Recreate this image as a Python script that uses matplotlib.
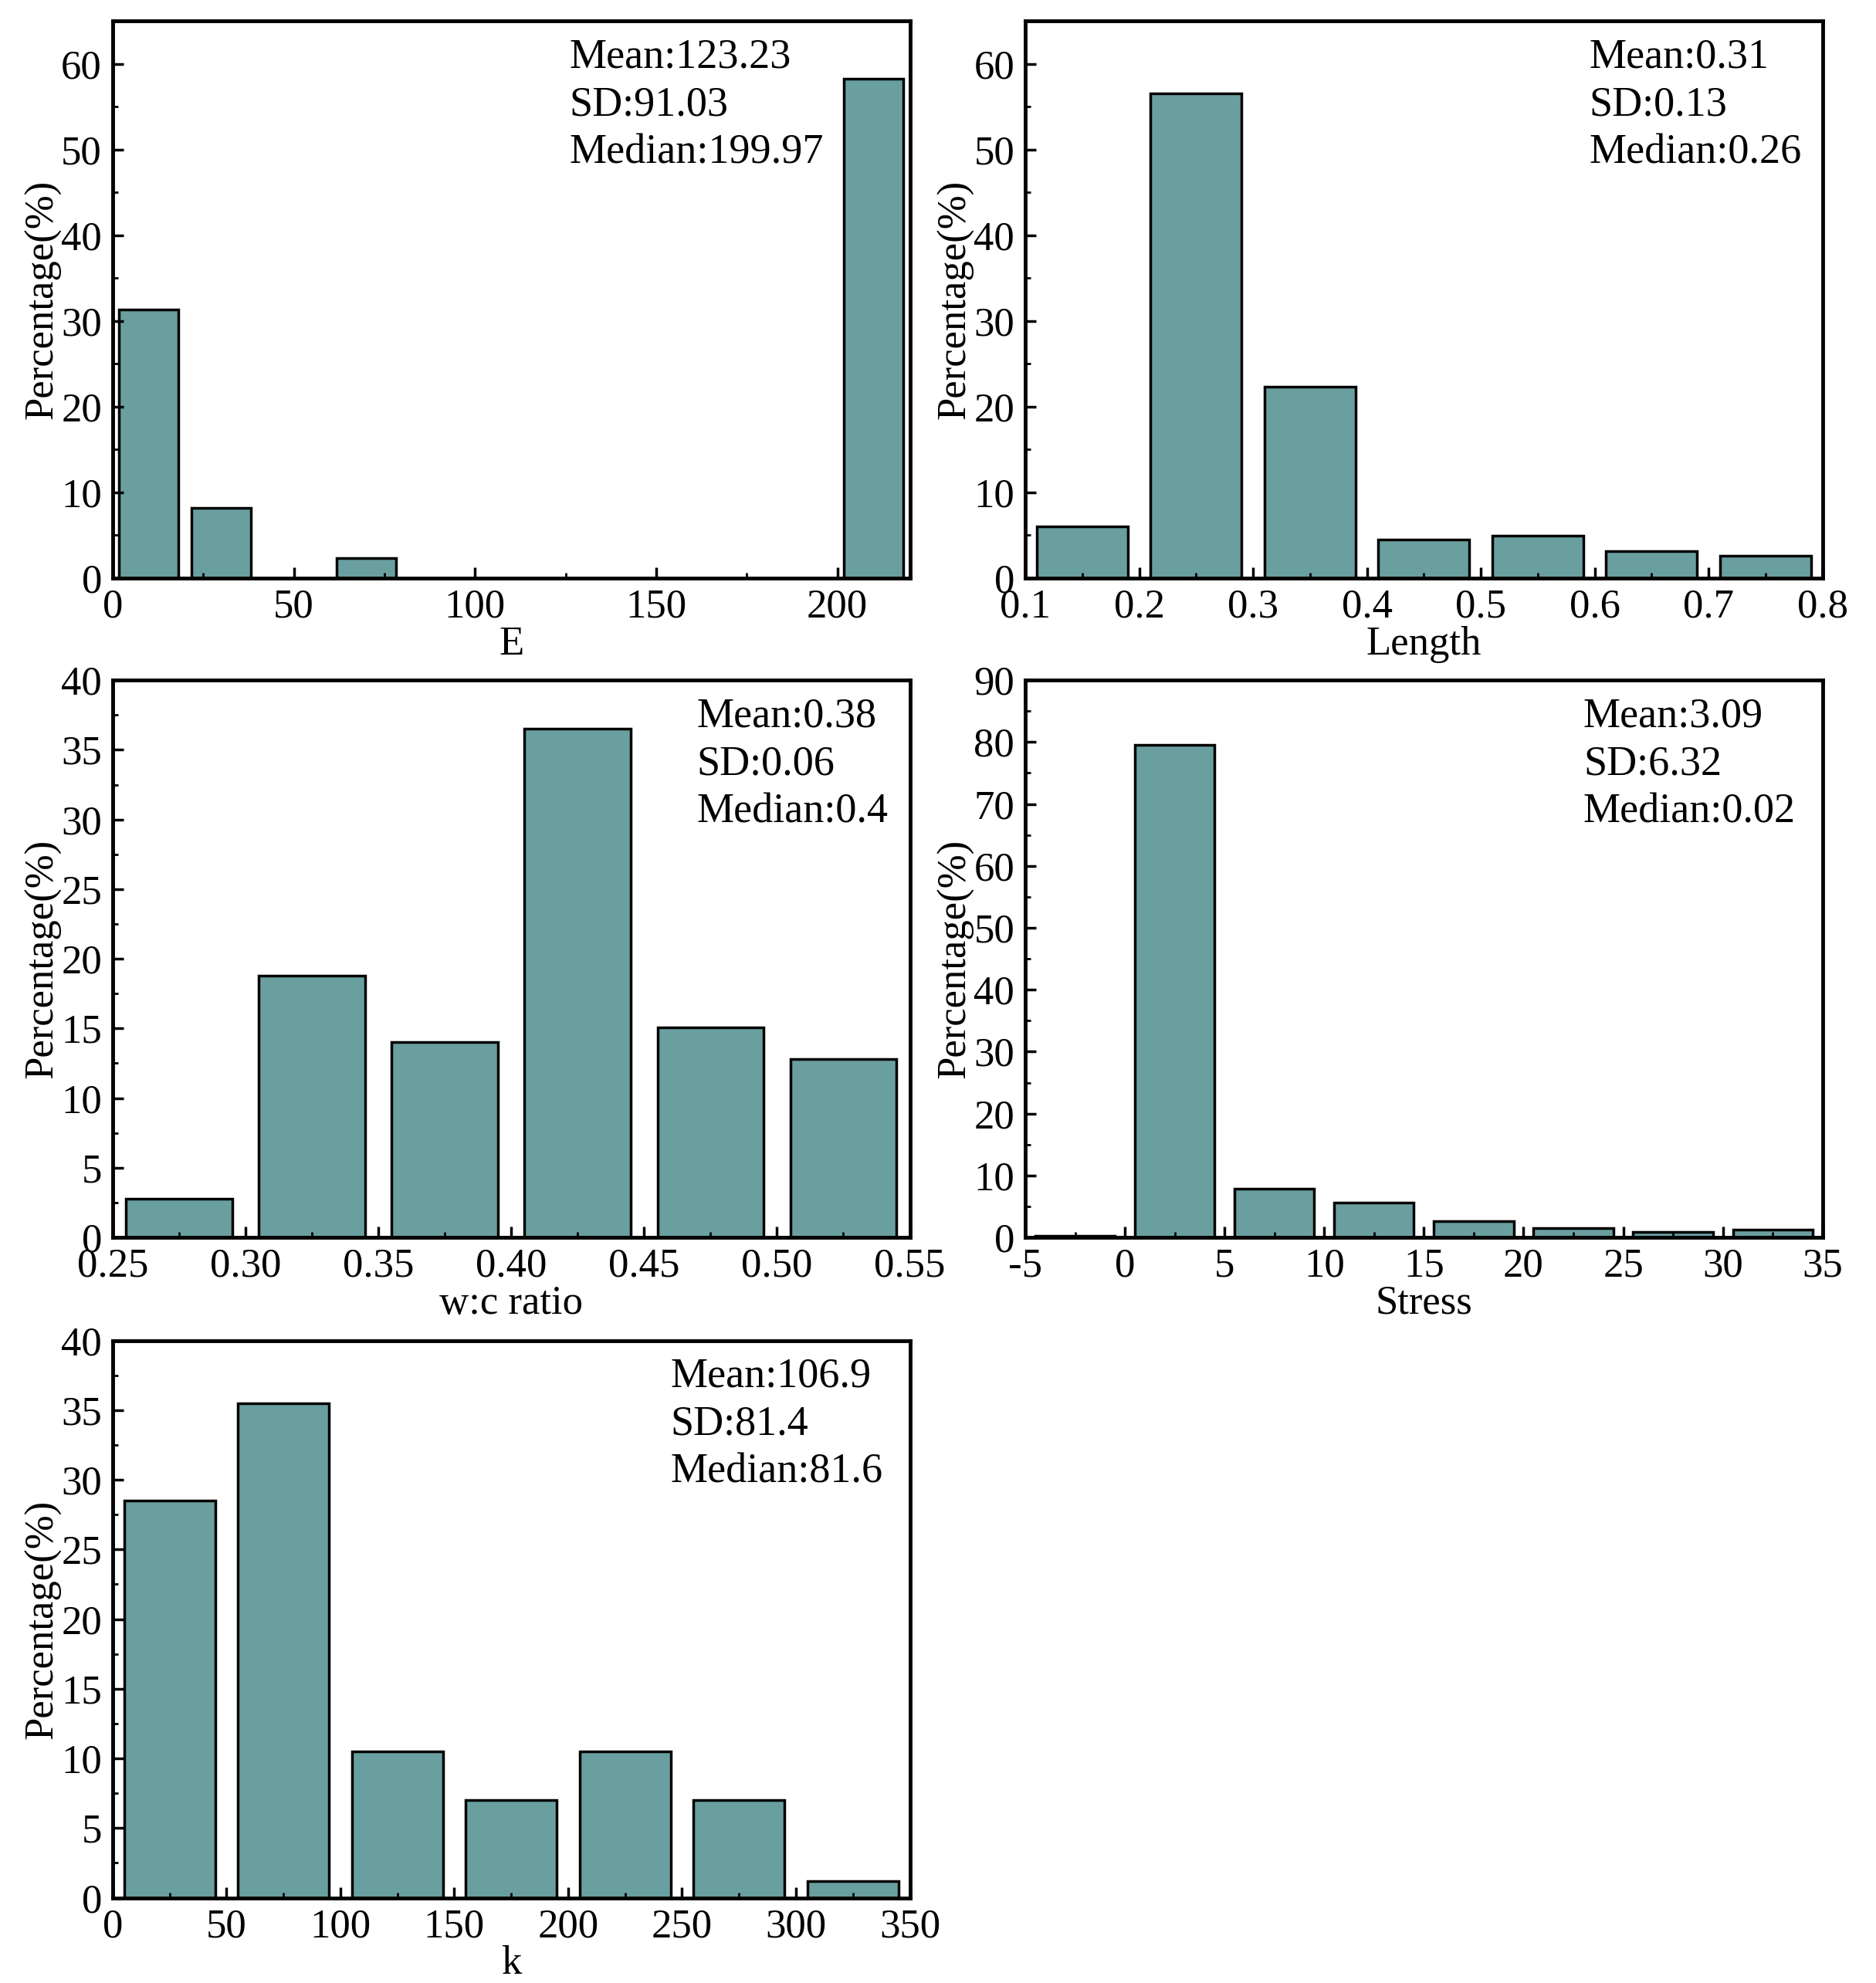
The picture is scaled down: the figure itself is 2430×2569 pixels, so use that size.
import matplotlib.pyplot as plt
from matplotlib.ticker import AutoMinorLocator

plt.rcParams['font.family'] = 'Liberation Serif'
plt.rcParams['font.size'] = 38
plt.rcParams['axes.unicode_minus'] = False

BAR_COLOR = '#6a9fa0'

# --- data ---
e_centers = [10, 30, 70, 210]
e_vals = [31.3, 8.2, 2.3, 58.2]

len_centers = [0.15, 0.25, 0.35, 0.45, 0.55, 0.65, 0.75]
len_vals = [6.0, 56.5, 22.3, 4.5, 4.9, 3.1, 2.6]

wc_centers = [0.275, 0.325, 0.375, 0.425, 0.475, 0.525]
wc_vals = [2.8, 18.8, 14.0, 36.5, 15.1, 12.8]

stress_centers = [-2.5, 2.5, 7.5, 12.5, 17.5, 22.5, 27.5, 32.5]
stress_vals = [0.2, 79.6, 7.8, 5.6, 2.6, 1.5, 0.9, 1.3]

k_centers = [25, 75, 125, 175, 225, 275, 325]
k_vals = [28.5, 35.5, 10.5, 7.0, 10.5, 7.0, 1.2]

W, H = 0.425, 0.281
panels = [
    dict(x=e_centers, y=e_vals, w=16.5, xlim=(0, 220), xt=[0, 50, 100, 150, 200], xtl=None,
         ylim=(0, 65), yt=range(0, 61, 10), xlabel='E', stats='Mean:123.23\nSD:91.03\nMedian:199.97',
         tx=0.573, pos=[0.060, 0.7085, W, H]),
    dict(x=len_centers, y=len_vals, w=0.08, xlim=(0.1, 0.8), xt=[0.1, 0.2, 0.3, 0.4, 0.5, 0.6, 0.7, 0.8],
         xtl=['0.1', '0.2', '0.3', '0.4', '0.5', '0.6', '0.7', '0.8'],
         ylim=(0, 65), yt=range(0, 61, 10), xlabel='Length', stats='Mean:0.31\nSD:0.13\nMedian:0.26',
         tx=0.707, pos=[0.5465, 0.7085, W, H]),
    dict(x=wc_centers, y=wc_vals, w=0.04, xlim=(0.25, 0.55), xt=[0.25, 0.30, 0.35, 0.40, 0.45, 0.50, 0.55],
         xtl=['0.25', '0.30', '0.35', '0.40', '0.45', '0.50', '0.55'],
         ylim=(0, 40), yt=range(0, 41, 5), xlabel='w:c ratio', stats='Mean:0.38\nSD:0.06\nMedian:0.4',
         tx=0.733, pos=[0.060, 0.376, W, H]),
    dict(x=stress_centers, y=stress_vals, w=4, xlim=(-5, 35), xt=range(-5, 36, 5), xtl=None,
         ylim=(0, 90), yt=range(0, 91, 10), xlabel='Stress', stats='Mean:3.09\nSD:6.32\nMedian:0.02',
         tx=0.70, pos=[0.5465, 0.376, W, H]),
    dict(x=k_centers, y=k_vals, w=40, xlim=(0, 350), xt=range(0, 351, 50), xtl=None,
         ylim=(0, 40), yt=range(0, 41, 5), xlabel='k', stats='Mean:106.9\nSD:81.4\nMedian:81.6',
         tx=0.70, pos=[0.060, 0.043, W, H]),
]

fig = plt.figure(figsize=(24.3, 25.69), dpi=100)

for p in panels:
    ax = fig.add_axes(p['pos'])
    ax.bar(p['x'], p['y'], width=p['w'], color=BAR_COLOR, edgecolor='black', linewidth=2.5)
    ax.set_xlim(*p['xlim'])
    ax.set_ylim(*p['ylim'])
    ax.set_xticks(list(p['xt']))
    if p['xtl']:
        ax.set_xticklabels(p['xtl'])
    ax.set_yticks(list(p['yt']))
    ax.xaxis.set_minor_locator(AutoMinorLocator(2))
    ax.yaxis.set_minor_locator(AutoMinorLocator(2))
    ax.tick_params(which='major', direction='in', length=10, width=2.5, pad=10)
    ax.tick_params(which='minor', direction='in', length=5, width=2)
    for s in ax.spines.values():
        s.set_linewidth(3.5)
    ax.set_xlabel(p['xlabel'], labelpad=0)
    ax.set_ylabel('Percentage(%)', labelpad=0)
    ax.text(p['tx'], 0.97, p['stats'], transform=ax.transAxes, va='top', ha='left',
            linespacing=1.3, fontsize=39)

plt.savefig('out.png')
